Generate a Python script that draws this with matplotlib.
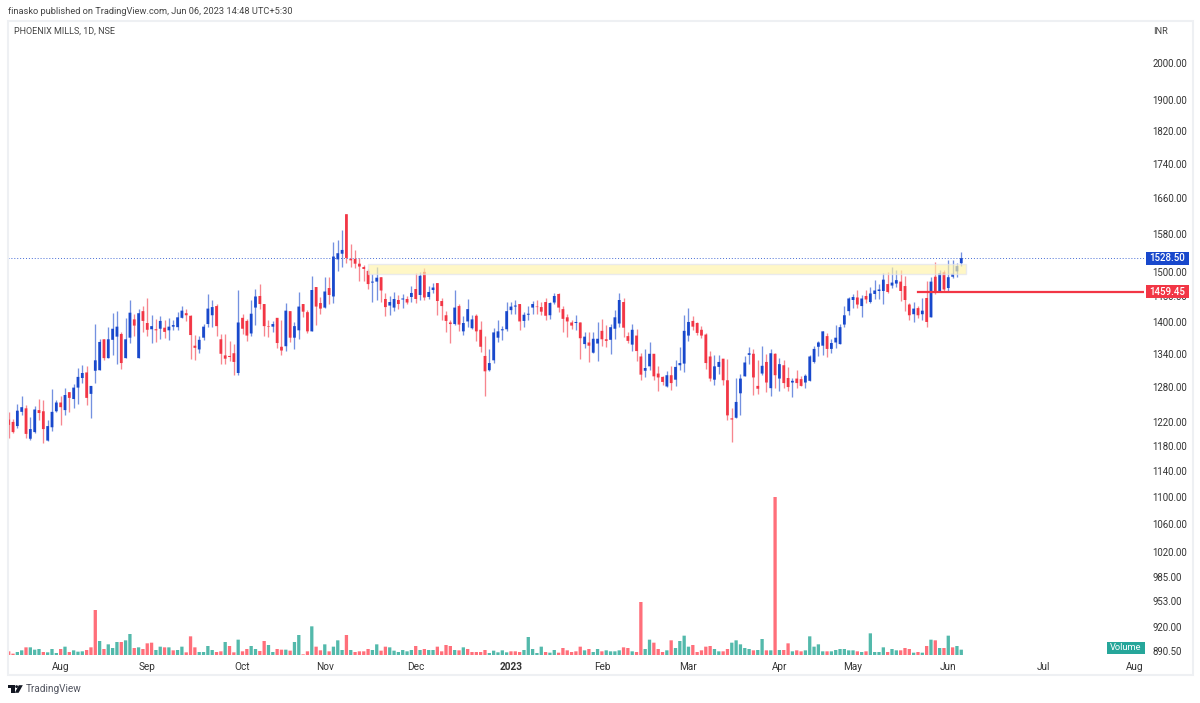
import matplotlib
matplotlib.use('Agg')
import matplotlib.pyplot as plt
from matplotlib.patches import Rectangle, Polygon, Circle

# daily candles
opens = [1224,1220,1213,1237,1243,1192,1203,1240,1238,1189,1211,1238,1253,1240,1271,1259,1279,1296,1306,1268,
         1309,1310,1367,1332,1366,1372,1377,1332,1370,1405,1332,1421,1398,1386,1386,1387,1389,1384,1391,1390,
         1408,1417,1412,1355,1348,1370,1396,1413,1431,1367,1337,1336,1341,1305,1408,1402,1378,1428,1451,1435,
         1392,1391,1408,1353,1354,1421,1370,1384,1435,1419,1382,1469,1437,1428,1467,1450,1526,1538,1624,1527,
         1527,1517,1510,1502,1478,1480,1489,1445,1432,1428,1443,1444,1445,1449,1465,1453,1500,1449,1463,1477,
         1441,1413,1399,1396,1431,1382,1401,1388,1412,1385,1336,1310,1328,1370,1384,1386,1423,1430,1435,1402,
         1414,1428,1430,1429,1439,1413,1438,1455,1425,1409,1399,1398,1399,1358,1361,1342,1359,1383,1367,1366,
         1387,1397,1439,1373,1357,1374,1335,1309,1317,1340,1304,1298,1281,1301,1293,1319,1322,1374,1402,1398,
         1385,1376,1335,1293,1316,1331,1292,1226,1227,1269,1299,1338,1340,1282,1304,1325,1278,1340,1295,1319,
         1296,1288,1295,1294,1288,1291,1325,1353,1355,1373,1349,1361,1358,1395,1421,1443,1448,1431,1451,1439,
         1455,1461,1461,1475,1472,1476,1480,1471,1434,1415,1427,1415,1447,1409,1490,1460,1499,1467,1490,1501,1518]
highs = [1237,1225,1250,1264,1248,1228,1247,1259,1258,1223,1276,1257,1264,1279,1272,1286,1314,1320,1318,1282,
         1396,1367,1367,1391,1418,1421,1381,1407,1443,1416,1426,1432,1446,1413,1406,1411,1404,1407,1404,1420,
         1432,1426,1413,1375,1374,1396,1454,1443,1435,1377,1377,1363,1358,1464,1416,1405,1443,1466,1475,1435,
         1404,1401,1408,1404,1438,1422,1400,1458,1436,1423,1492,1470,1448,1489,1489,1564,1568,1589,1624,1559,
         1546,1529,1514,1506,1496,1510,1490,1456,1451,1459,1453,1455,1450,1471,1497,1500,1509,1472,1478,1477,
         1446,1421,1404,1462,1436,1412,1445,1414,1415,1402,1373,1348,1389,1404,1392,1439,1439,1443,1436,1419,
         1431,1441,1443,1440,1447,1439,1456,1456,1431,1416,1404,1413,1400,1381,1380,1380,1399,1406,1394,1397,
         1424,1456,1447,1381,1396,1387,1341,1348,1362,1340,1317,1300,1308,1318,1329,1352,1413,1428,1412,1400,
         1393,1378,1345,1337,1337,1331,1330,1244,1296,1303,1335,1352,1349,1329,1355,1339,1349,1342,1333,1328,
         1315,1296,1310,1299,1303,1338,1355,1363,1383,1379,1368,1395,1396,1431,1448,1454,1462,1452,1464,1470,
         1484,1476,1497,1500,1511,1503,1503,1492,1438,1439,1431,1446,1481,1489,1520,1503,1504,1525,1525,1519,1541]
lows = [1194,1201,1209,1231,1194,1190,1202,1223,1185,1189,1204,1237,1215,1231,1237,1244,1250,1288,1248,1226,
        1288,1310,1328,1332,1338,1322,1313,1332,1360,1374,1332,1381,1374,1360,1362,1368,1370,1365,1384,1384,
        1407,1401,1331,1329,1342,1366,1390,1390,1374,1321,1322,1327,1302,1302,1377,1364,1374,1394,1426,1374,
        1372,1381,1351,1338,1345,1361,1348,1368,1410,1379,1382,1394,1416,1428,1436,1437,1502,1511,1518,1511,
        1507,1481,1482,1466,1440,1443,1440,1411,1414,1422,1426,1428,1436,1440,1438,1443,1443,1445,1456,1413,
        1403,1380,1360,1394,1382,1375,1391,1387,1363,1344,1265,1308,1323,1361,1366,1382,1416,1416,1384,1391,
        1404,1416,1416,1413,1403,1405,1436,1420,1380,1372,1387,1384,1331,1351,1325,1341,1326,1355,1353,1339,
        1368,1391,1372,1360,1346,1327,1292,1298,1311,1293,1273,1283,1280,1275,1281,1310,1306,1364,1385,1376,
        1370,1313,1290,1283,1304,1284,1223,1187,1226,1232,1299,1322,1266,1268,1302,1272,1264,1279,1273,1278,
        1273,1262,1279,1282,1278,1291,1323,1336,1338,1334,1341,1351,1358,1391,1413,1428,1428,1409,1438,1438,
        1444,1445,1435,1456,1467,1470,1441,1421,1403,1400,1407,1403,1391,1409,1455,1458,1459,1460,1487,1489,1513]
closes = [1215,1203,1239,1245,1200,1208,1241,1235,1208,1213,1237,1253,1245,1266,1261,1279,1298,1305,1261,1282,
          1328,1362,1332,1367,1387,1391,1323,1367,1418,1393,1417,1402,1385,1392,1384,1402,1381,1391,1394,1409,
          1422,1413,1375,1351,1366,1391,1426,1429,1392,1340,1331,1334,1325,1399,1387,1374,1416,1450,1435,1392,
          1391,1396,1360,1346,1422,1370,1392,1430,1420,1382,1463,1430,1426,1460,1453,1532,1539,1546,1529,1524,
          1517,1511,1506,1475,1480,1488,1462,1429,1439,1445,1435,1446,1438,1457,1445,1492,1448,1459,1468,1441,
          1431,1402,1396,1428,1395,1398,1425,1405,1382,1353,1308,1323,1380,1382,1386,1421,1430,1432,1401,1414,
          1416,1435,1429,1420,1412,1437,1451,1428,1406,1401,1393,1400,1369,1372,1355,1368,1368,1367,1364,1390,
          1409,1443,1389,1364,1385,1345,1302,1314,1340,1299,1297,1289,1301,1287,1316,1323,1383,1400,1391,1379,
          1374,1323,1295,1317,1325,1292,1231,1224,1254,1295,1324,1341,1297,1277,1318,1288,1341,1301,1321,1287,
          1280,1291,1287,1282,1300,1335,1349,1361,1382,1349,1360,1370,1390,1413,1446,1449,1434,1446,1444,1456,
          1462,1464,1484,1459,1478,1483,1461,1443,1413,1426,1413,1422,1400,1480,1459,1497,1464,1489,1496,1512,1528.5]

volumes = [11,4,9,14,23,23,16,18,9,8,18,6,18,25,9,14,10,11,15,23,
           135,42,18,32,21,39,39,44,63,21,23,18,35,37,15,25,23,23,14,15,
           25,8,56,23,9,9,27,15,9,11,39,27,8,46,11,18,27,18,12,42,
           30,9,18,16,16,13,39,60,2,11,86,25,14,32,11,25,44,15,60,15,
           9,11,11,18,15,32,13,25,23,13,9,15,11,15,27,15,18,15,15,25,
           11,30,27,15,14,23,18,9,9,9,15,6,13,8,
           14,8,11,11,9,15,54,18,6,25,9,7,15,7,21,14,9,11,25,14,
           18,9,18,11,14,11,11,14,23,21,11,9,159,18,46,37,18,9,14,44,
           21,42,58,25,30,9,14,25,27,18,11,11,18,37,44,32,21,18,14,15,
           48,14,14,474,15,15,35,11,14,11,14,56,25,32,11,11,11,15,18,18,
           14,14,11,9,11,65,9,9,23,9,18,14,14,21,18,7,9,7,27,46,
           44,21,21,58,23,27,16]
# volume colour follows its own rule, 1 = teal, 0 = red
volume_up = [0,0,1,1,0,1,1,1,0,1,1,1,0,1,0,1,1,1,0,0,
             0,1,0,1,1,1,0,1,1,0,1,0,0,0,1,1,0,1,0,1,
             1,0,0,0,1,1,1,1,0,0,1,0,0,1,0,0,1,1,0,0,
             1,1,0,0,1,0,1,1,0,0,1,0,0,1,0,1,1,1,0,1,
             0,0,0,0,1,1,0,0,1,1,1,1,1,1,0,1,0,1,1,0,
             0,0,0,1,0,1,0,0,0,0,0,1,1,1,
             1,1,0,0,0,1,1,1,1,1,0,1,1,0,0,0,0,0,0,1,
             0,1,1,0,1,1,1,1,0,0,1,0,0,1,1,0,0,0,1,0,
             1,1,1,1,0,0,0,0,0,1,1,0,0,1,1,1,1,1,0,1,
             1,0,1,0,1,0,0,1,0,0,1,1,1,1,1,0,1,1,1,1,
             1,1,0,1,0,1,1,1,1,0,1,1,0,0,0,1,0,1,0,1,
             0,1,0,1,0,1,1]

price_ticks = [2000,1900,1820,1740,1660,1580,1500,1450,1400,1340,1280,1220,1180,1140,1100,1060,1020,985,953,920,890.5]
month_pos = [12,32,54,73,94,116,137,157,178,195,217,239,260]
month_labels = ['Aug','Sep','Oct','Nov','Dec','2023','Feb','Mar','Apr','May','Jun','Jul','Aug']

zone_start, zone_end = 83, 221.2
zone_low, zone_high = 1496, 1516.5
level_start, level_price = 210, 1459.45

BLUE = '#1848cc'
RED = '#f23645'
TEAL = '#53b9ab'
VOLRED = '#ff6f7a'
plt.rcParams['font.family'] = 'Roboto'

W, H = 1200, 703
fig = plt.figure(figsize=(W/100, H/100), dpi=100, facecolor='white')

# frame in pixels: x 8-1144, y 21-655
rect = [8/W, 1-655/H, 1136/W, 634/H]
ax_vol = fig.add_axes(rect)
ax = fig.add_axes(rect, facecolor='none')
px = fig.add_axes([0, 0, 1, 1], facecolor='none')
px.set_xlim(0, W)
px.set_ylim(H, 0)
px.axis('off')

x = list(range(len(opens)))
xlim = (-0.16, 262.2)

# volume pane
ax_vol.bar(x, volumes, width=0.76, color=[TEAL if u else VOLRED for u in volume_up], linewidth=0, snap=False)
ax_vol.set_xlim(xlim)
ax_vol.set_ylim(0, 474*634/158)
ax_vol.axis('off')

# candles
for i in x:
    col = BLUE if closes[i] >= opens[i] else RED
    ax.vlines(i, lows[i], highs[i], color=col, alpha=0.6, linewidth=0.95, zorder=2)
    ax.bar(i, abs(closes[i]-opens[i]), bottom=min(opens[i], closes[i]), width=0.64, color=col,
           linewidth=0, zorder=3, snap=False)

ax.set_yscale('log')
ax.set_ylim(885, 2119)
ax.set_xlim(xlim)
ax.minorticks_off()
ax.yaxis.tick_right()
ax.set_yticks(price_ticks)
ax.set_yticklabels([f'{p:.2f}' for p in price_ticks])
ax.tick_params(axis='y', length=0, pad=6, labelsize=6.9, labelcolor='#333333')
ax.set_xticks(month_pos)
ax.set_xticklabels(month_labels)
ax.tick_params(axis='x', length=0, pad=5, labelsize=7.2, labelcolor='#333333')
ax.get_xticklabels()[5].set_fontweight('bold')
for s in ax.spines.values():
    s.set_visible(False)

# resistance zone and levels
ax.add_patch(Rectangle((zone_start, zone_low), zone_end-zone_start, zone_high-zone_low,
                       facecolor='#fff3a8', edgecolor='#dfe1f2', alpha=0.65, linewidth=1, zorder=4))
ax.plot([level_start, xlim[1]], [level_price, level_price], color=RED, linewidth=1.6, zorder=5)
ax.axhline(closes[-1], color=BLUE, linestyle=(0, (1, 2)), linewidth=0.7, alpha=0.8, zorder=1)

# outer frame
px.add_patch(Rectangle((7.5, 21), 1185.5, 654, fill=False, edgecolor='#eef0f3', linewidth=1.5))


def price_tag(price, color):
    y = H - ax.transData.transform((0, price))[1]
    px.add_patch(Rectangle((1146, y-6.5), 43, 13, facecolor=color, edgecolor='none', zorder=6))
    px.text(1167.5, y, f'{price:.2f}', color='white', fontsize=6.9, fontweight='medium',
            ha='center', va='center', zorder=7)


price_tag(closes[-1], BLUE)
price_tag(level_price, RED)

# volume legend
px.add_patch(Rectangle((1107, 642), 38, 12, facecolor='#26a69a', edgecolor='none', zorder=6))
px.text(1126, 648, 'Volume', color='white', fontsize=6.7, ha='center', va='center', zorder=7)

px.text(8, 11, 'finasko published on TradingView.com, Jun 06, 2023 14:48 UTC+5:30',
        color='#444444', fontsize=6.65, va='center')
px.text(14, 31, 'PHOENIX MILLS, 1D, NSE', color='#444444', fontsize=6.5, va='center')
px.text(1153, 31, 'INR', color='#444444', fontsize=6.7, va='center')

# TradingView logo
px.add_patch(Rectangle((8, 685.2), 6.5, 2.6, facecolor='#131722', edgecolor='none'))
px.add_patch(Rectangle((11, 685.2), 3.5, 7.6, facecolor='#131722', edgecolor='none'))
px.add_patch(Circle((16.6, 686.6), 1.4, facecolor='#131722', edgecolor='none'))
px.add_patch(Polygon([(18.8, 685.2), (22.8, 685.2), (18.6, 692.8), (14.8, 692.8)], facecolor='#131722', edgecolor='none'))
px.text(26, 689, 'TradingView', color='#50535e', fontsize=7.2, va='center')

fig.savefig('out.png', dpi=100)
